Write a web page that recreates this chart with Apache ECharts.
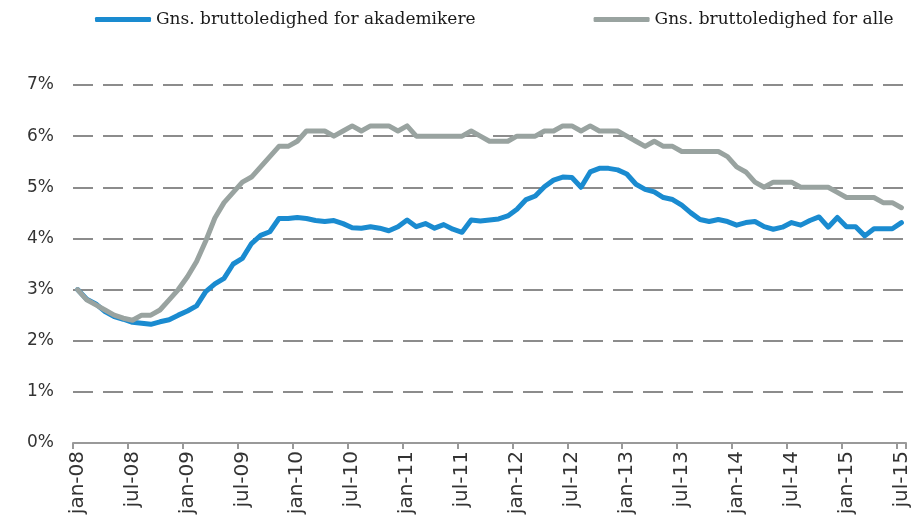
<!DOCTYPE html>
<html>
<head>
<meta charset="utf-8">
<script src="https://cdn.jsdelivr.net/npm/echarts@6/dist/echarts.min.js"></script>
<style>
html,body{margin:0;padding:0;background:#fff;}
#chart{width:922px;height:518px;}
</style>
</head>
<body>
<div id="chart"></div>
<script>
var monthNames = ['jan','feb','mar','apr','maj','jun','jul','aug','sep','okt','nov','dec'];
var years = ['08','09','10','11','12','13','14','15'];
var lastMonthIndex = 6; // jul-15

var seriesNames = ['Gns. bruttoledighed for akademikere', 'Gns. bruttoledighed for alle'];

var akademikere = [
  3.00, 2.81, 2.72, 2.57, 2.47, 2.42, 2.36, 2.34, 2.32, 2.37, 2.41, 2.50,
  2.58, 2.68, 2.96, 3.11, 3.22, 3.50, 3.61, 3.90, 4.06, 4.13, 4.39, 4.39,
  4.41, 4.39, 4.35, 4.33, 4.35, 4.29, 4.21, 4.20, 4.23, 4.20, 4.15, 4.23,
  4.36, 4.23, 4.29, 4.20, 4.27, 4.18, 4.12, 4.36, 4.34, 4.36, 4.38, 4.44,
  4.57, 4.76, 4.83, 5.01, 5.14, 5.20, 5.19, 5.00, 5.30, 5.37, 5.37, 5.34,
  5.26, 5.06, 4.96, 4.91, 4.80, 4.76, 4.65, 4.50, 4.37, 4.33, 4.37, 4.33,
  4.26, 4.31, 4.33, 4.23, 4.18, 4.22, 4.31, 4.26, 4.35, 4.42, 4.22, 4.41,
  4.23, 4.23, 4.05, 4.19, 4.19, 4.19, 4.31
];

var alle = [
  3.00, 2.80, 2.70, 2.60, 2.50, 2.44, 2.40, 2.50, 2.50, 2.60, 2.80, 3.00,
  3.25, 3.55, 3.95, 4.40, 4.70, 4.90, 5.10, 5.20, 5.40, 5.60, 5.80, 5.80,
  5.90, 6.10, 6.10, 6.10, 6.00, 6.10, 6.20, 6.10, 6.20, 6.20, 6.20, 6.10,
  6.20, 6.00, 6.00, 6.00, 6.00, 6.00, 6.00, 6.10, 6.00, 5.90, 5.90, 5.90,
  6.00, 6.00, 6.00, 6.10, 6.10, 6.20, 6.20, 6.10, 6.20, 6.10, 6.10, 6.10,
  6.00, 5.90, 5.80, 5.90, 5.80, 5.80, 5.70, 5.70, 5.70, 5.70, 5.70, 5.60,
  5.40, 5.30, 5.10, 5.00, 5.10, 5.10, 5.10, 5.00, 5.00, 5.00, 5.00, 4.90,
  4.80, 4.80, 4.80, 4.80, 4.70, 4.70, 4.60
];

var yTicks = [0, 1, 2, 3, 4, 5, 6, 7];

var categories = [];
years.forEach(function (y, yi) {
  monthNames.forEach(function (m, mi) {
    if (yi === years.length - 1 && mi > lastMonthIndex) return;
    categories.push(m + '-' + y);
  });
});

var chart = echarts.init(document.getElementById('chart'), null, {renderer: 'canvas'});
chart.setOption({
  animation: false,
  backgroundColor: '#ffffff',
  color: ['#1a8bd0', '#99a3a0'],
  legend: {
    top: 6,
    left: 90,
    itemWidth: 56,
    itemHeight: 5,
    itemGap: 118,
    icon: 'roundRect',
    textStyle: {
      fontFamily: 'DejaVu Serif',
      fontSize: 17,
      color: '#1a1a1a'
    },
    data: seriesNames
  },
  grid: {
    left: 73,
    right: 16,
    top: 85,
    bottom: 75,
    containLabel: false
  },
  xAxis: {
    type: 'category',
    data: categories,
    boundaryGap: true,
    axisLine: {show: true, lineStyle: {color: '#999999', width: 2}},
    axisTick: {show: true, interval: 5, length: 6, lineStyle: {color: '#999999', width: 2}},
    axisLabel: {
      interval: 5,
      rotate: 90,
      margin: 8,
      fontFamily: 'DejaVu Sans',
      fontSize: 20,
      color: '#333333'
    },
    splitLine: {show: false}
  },
  yAxis: {
    type: 'value',
    min: yTicks[0],
    max: yTicks[yTicks.length - 1],
    interval: 1,
    axisLine: {show: false},
    axisTick: {show: false},
    axisLabel: {
      margin: 19,
      fontFamily: 'DejaVu Sans',
      fontSize: 17,
      color: '#333333',
      formatter: function (v) { return v + '%'; }
    },
    splitLine: {
      show: true,
      lineStyle: {color: '#8c8c8c', width: 2, type: [20, 10]}
    }
  },
  series: [
    {
      name: seriesNames[0],
      type: 'line',
      data: akademikere,
      symbol: 'none',
      lineStyle: {width: 5, color: '#1a8bd0', join: 'round', cap: 'round'}
    },
    {
      name: seriesNames[1],
      type: 'line',
      data: alle,
      symbol: 'none',
      lineStyle: {width: 5, color: '#99a3a0', join: 'round', cap: 'round'}
    }
  ]
});
</script>
</body>
</html>
